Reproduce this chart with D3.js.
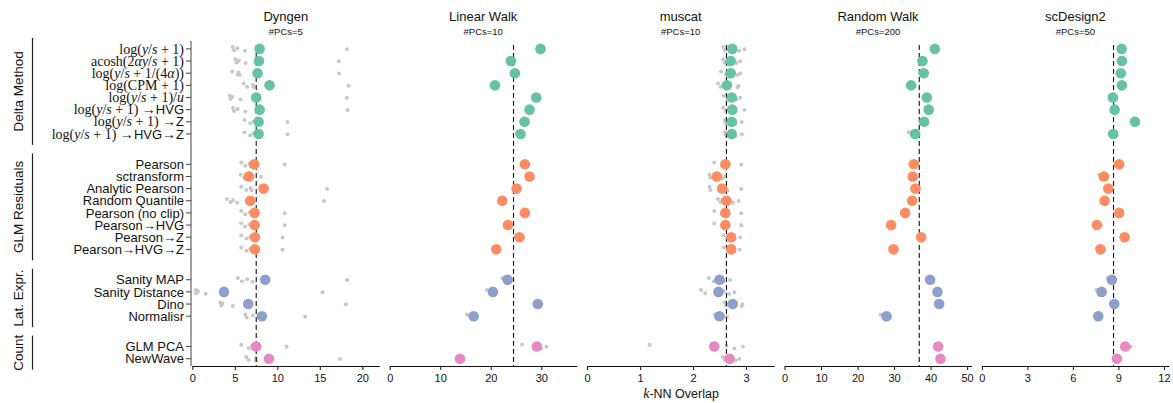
<!DOCTYPE html>
<html lang="en">
  <head>
    <meta charset="UTF-8" />
    <title>k-NN Overlap per transformation</title>
    <script src="https://cdn.jsdelivr.net/npm/d3@7"></script>
    <style>
      body {
        margin: 0;
        background: white;
      }
      svg {
        display: block;
        font-family: "Liberation Sans", Arial, sans-serif;
      }
    </style>
  </head>
  <body>
    <svg id="chart" width="1173" height="403"></svg>
    <script>
      // panels
      const datasets = ["Dyngen", "Linear Walk", "muscat", "Random Walk", "scDesign2"];
      const pcLabels = ["#PCs=5", "#PCs=10", "#PCs=10", "#PCs=200", "#PCs=50"];
      const xMax = [22, 37, 3.53, 51.2, 12.33];
      const xTicks = [
        [0, 5, 10, 15, 20],
        [0, 10, 20, 30],
        [0, 1, 2, 3],
        [0, 10, 20, 30, 40, 50],
        [0, 3, 6, 9, 12],
      ];
      const baselines = [7.52, 24.5, 2.63, 36.9, 8.68];

      // method groups
      const groupNames = ["Delta Method", "GLM Residuals", "Lat. Expr.", "Count"];
      const groupSizes = [8, 8, 4, 2];
      const groupColors = ["#66c2a5", "#fc8d62", "#8da0cb", "#e78ac3"];

      // row labels: [text, kind] where r = math roman, i = math italic, s = sans
      const methodLabels = [
        [["log(", "r"], ["y", "i"], ["/", "r"], ["s", "i"], [" + 1)", "r"]],
        [["acosh(2", "r"], ["αy", "i"], ["/", "r"], ["s", "i"], [" + 1)", "r"]],
        [["log(", "r"], ["y", "i"], ["/", "r"], ["s", "i"], [" + 1/(4", "r"], ["α", "i"], ["))", "r"]],
        [["log(CPM + 1)", "r"]],
        [["log(", "r"], ["y", "i"], ["/", "r"], ["s", "i"], [" + 1)/", "r"], ["u", "i"]],
        [["log(", "r"], ["y", "i"], ["/", "r"], ["s", "i"], [" + 1) →", "r"], ["HVG", "s"]],
        [["log(", "r"], ["y", "i"], ["/", "r"], ["s", "i"], [" + 1) →", "r"], ["Z", "s"]],
        [["log(", "r"], ["y", "i"], ["/", "r"], ["s", "i"], [" + 1) →", "r"], ["HVG", "s"], ["→", "r"], ["Z", "s"]],
        [["Pearson", "s"]],
        [["sctransform", "s"]],
        [["Analytic Pearson", "s"]],
        [["Random Quantile", "s"]],
        [["Pearson (no clip)", "s"]],
        [["Pearson→HVG", "s"]],
        [["Pearson→Z", "s"]],
        [["Pearson→HVG→Z", "s"]],
        [["Sanity MAP", "s"]],
        [["Sanity Distance", "s"]],
        [["Dino", "s"]],
        [["Normalisr", "s"]],
        [["GLM PCA", "s"]],
        [["NewWave", "s"]],
      ];

      // mean k-NN overlap (large dots)
      const dyngenMean = [7.92, 7.84, 7.68, 9.09, 7.52, 7.92, 7.8, 7.8, 7.29, 6.66, 8.39, 6.82, 7.33, 7.33, 7.37, 7.37, 8.58, 3.73, 6.58, 8.19, 7.52, 9.01];
      const linearMean = [29.84, 23.98, 24.77, 20.82, 28.99, 27.67, 26.68, 25.89, 26.75, 27.67, 25.1, 22.27, 26.75, 23.39, 25.69, 21.08, 23.32, 20.42, 29.3, 16.6, 29.1, 13.9];
      const muscatMean = [2.74, 2.71, 2.71, 2.64, 2.73, 2.74, 2.73, 2.73, 2.61, 2.45, 2.55, 2.63, 2.61, 2.61, 2.72, 2.72, 2.5, 2.48, 2.75, 2.5, 2.4, 2.69];
      const randomMean = [41.15, 37.77, 38.14, 34.67, 38.96, 39.5, 38.23, 35.77, 35.4, 35.13, 35.86, 34.95, 33.03, 29.2, 37.4, 29.84, 39.87, 41.88, 42.34, 27.92, 42.06, 42.7];
      const scdesignMean = [9.21, 9.23, 9.16, 9.23, 8.64, 8.75, 10.09, 8.66, 9.05, 8.04, 8.33, 8.09, 9.05, 7.58, 9.41, 7.82, 8.57, 7.89, 8.73, 7.67, 9.45, 8.9];

      // individual seeds (small grey dots)
      const dyngenReps = [
        [4.75, 4.9, 5.3, 6.2, 18.2], [5.06, 5.22, 5.49, 6.27, 17.24], [4.7, 5.35, 5.45, 5.6, 17.27],
        [6.04, 6.46, 7.13, 7.2, 18.38], [4.4, 4.47, 4.7, 5.69, 18.18], [4.78, 4.9, 5.33, 6.23, 18.26],
        [6.15, 6.82, 7.25, 7.58, 11.2], [6.15, 6.82, 7.25, 7.58, 11.2], [5.76, 6.23, 6.74, 6.86, 10.86],
        [5.69, 6.08, 6.6, 6.86, 8.07], [5.76, 6.35, 6.86, 6.98, 15.86], [4.08, 4.51, 4.78, 5.29, 15.51],
        [5.76, 6.23, 6.74, 7.06, 10.86], [5.76, 6.23, 6.74, 7.06, 10.86], [5.76, 6.39, 6.82, 7.25, 10.63],
        [5.76, 6.39, 6.82, 7.25, 10.63], [5.37, 5.84, 6.46, 7.1, 18.2], [0.43, 0.43, 0.67, 1.57, 15.32],
        [3.3, 3.41, 3.53, 4.78, 18.06], [6.23, 6.39, 7.13, 7.92, 13.28], [5.76, 6.63, 7.02, 7.09, 11.1],
        [6.35, 6.63, 7.49, 7.52, 17.36],
      ];
      const linearReps = [
        [29.5, 29.7, 29.9, 30.0, 30.1], [23.8, 23.9, 24.0, 24.1, 24.1], [24.6, 24.7, 24.8, 24.9, 24.9],
        [20.6, 20.7, 20.8, 21.0, 21.0], [28.8, 28.9, 29.0, 29.1, 29.2], [27.4, 27.6, 27.7, 27.8, 27.9],
        [26.5, 26.6, 26.7, 26.8, 26.8], [25.2, 25.8, 26.0, 26.2, 26.3], [26.6, 26.7, 26.7, 26.8, 26.9],
        [27.5, 27.6, 27.7, 27.8, 27.8], [24.9, 25.0, 25.1, 25.2, 25.3], [21.8, 22.1, 22.3, 22.5, 22.6],
        [26.6, 26.7, 26.8, 26.8, 26.9], [23.2, 23.3, 23.4, 23.5, 23.5], [24.9, 25.6, 25.9, 26.0, 26.1],
        [20.9, 21.0, 21.1, 21.2, 21.2], [22.3, 23.2, 23.5, 23.7, 23.9], [19.2, 20.2, 20.6, 21.0, 21.1],
        [29.1, 29.2, 29.3, 29.4, 29.5], [15.3, 16.4, 16.8, 17.2, 17.3], [26.2, 28.9, 29.4, 30.0, 31.0],
        [13.7, 13.8, 13.9, 14.0, 14.1],
      ];
      const muscatReps = [
        [2.57, 2.6, 2.7, 2.87, 2.97], [2.57, 2.6, 2.67, 2.82, 2.89], [2.53, 2.62, 2.67, 2.84, 2.89],
        [2.47, 2.52, 2.62, 2.84, 2.86], [2.58, 2.65, 2.72, 2.82, 2.89], [2.57, 2.62, 2.75, 2.8, 2.97],
        [2.6, 2.62, 2.72, 2.8, 2.92], [2.6, 2.62, 2.72, 2.8, 2.92], [2.4, 2.55, 2.6, 2.6, 2.91],
        [2.31, 2.33, 2.45, 2.55, 2.61], [2.31, 2.33, 2.55, 2.65, 2.91], [2.47, 2.52, 2.55, 2.75, 2.86],
        [2.4, 2.55, 2.6, 2.6, 2.91], [2.4, 2.55, 2.6, 2.6, 2.91], [2.58, 2.65, 2.7, 2.78, 2.89],
        [2.58, 2.66, 2.7, 2.78, 2.88], [2.3, 2.39, 2.45, 2.58, 2.7], [2.15, 2.23, 2.58, 2.68, 2.78],
        [2.6, 2.62, 2.68, 2.92, 2.93], [2.41, 2.44, 2.47, 2.52, 2.64], [1.18, 2.45, 2.63, 2.78, 2.94],
        [2.56, 2.6, 2.62, 2.8, 2.87],
      ];
      const randomReps = [
        [40.9, 41.0, 41.2, 41.3, 41.4], [37.5, 37.7, 37.8, 37.9, 38.0], [37.9, 38.0, 38.2, 38.3, 38.3],
        [34.4, 34.6, 34.7, 34.8, 34.9], [38.7, 38.9, 39.0, 39.1, 39.1], [38.6, 39.4, 39.7, 39.9, 39.9],
        [38.0, 38.1, 38.3, 38.4, 38.4], [34.0, 35.7, 36.2, 36.4, 36.5], [35.2, 35.3, 35.4, 35.5, 35.6],
        [34.9, 35.0, 35.1, 35.3, 35.35], [35.6, 35.8, 35.9, 36.0, 36.0], [34.7, 34.9, 35.0, 35.1, 35.05],
        [32.8, 32.9, 33.0, 33.2, 33.25], [29.0, 29.1, 29.2, 29.3, 29.4], [37.2, 37.3, 37.4, 37.5, 37.6],
        [29.6, 29.7, 29.9, 30.0, 30.0], [39.6, 39.8, 39.9, 40.0, 40.05], [41.6, 41.8, 41.9, 42.0, 42.1],
        [41.8, 42.2, 42.4, 42.6, 42.7], [26.3, 27.5, 28.2, 28.8, 28.8], [41.8, 42.0, 42.1, 42.2, 42.2],
        [42.5, 42.6, 42.7, 42.8, 42.9],
      ];
      const scdesignReps = [
        [9.1, 9.15, 9.2, 9.25, 9.35], [9.1, 9.2, 9.25, 9.3, 9.3], [9.05, 9.1, 9.15, 9.2, 9.3],
        [9.05, 9.15, 9.2, 9.3, 9.45], [8.4, 8.55, 8.65, 8.75, 8.85], [8.6, 8.7, 8.75, 8.8, 8.9],
        [9.95, 10.0, 10.1, 10.15, 10.25], [8.55, 8.6, 8.65, 8.7, 8.8], [8.9, 9.0, 9.05, 9.1, 9.2],
        [7.75, 8.0, 8.1, 8.15, 8.2], [8.2, 8.3, 8.35, 8.4, 8.4], [7.95, 8.05, 8.1, 8.15, 8.2],
        [8.9, 9.0, 9.05, 9.1, 9.2], [7.4, 7.5, 7.55, 7.6, 7.85], [9.3, 9.35, 9.4, 9.45, 9.55],
        [7.6, 7.75, 7.8, 7.9, 8.05], [8.3, 8.5, 8.6, 8.7, 8.75], [7.55, 7.85, 7.95, 8.0, 8.1],
        [8.55, 8.7, 8.75, 8.8, 8.85], [7.55, 7.6, 7.65, 7.75, 7.8], [9.3, 9.4, 9.45, 9.5, 9.8],
        [8.8, 8.85, 8.9, 8.95, 9.0],
      ];

      const means = [dyngenMean, linearMean, muscatMean, randomMean, scdesignMean];
      const reps = [dyngenReps, linearReps, muscatReps, randomReps, scdesignReps];

      // layout
      const serif = '"Liberation Serif", "Times New Roman", serif';
      const sans = '"Liberation Sans", Arial, sans-serif';
      const panelLeft = 192.3,
        panelStep = 197.4,
        panelWidth = 187;
      const jitter = [-1.8, 1.4, -0.6, 1.9, 0.3];

      // slot index of each row, with a gap of 2.5 slots between groups
      const slots = [];
      const rowGroup = [];
      let pos = 0;
      groupSizes.forEach((n, g) => {
        for (let k = 0; k < n; k++) {
          slots.push(pos + k);
          rowGroup.push(g);
        }
        pos += n - 1 + 2.5;
      });

      const svg = d3.select("#chart");
      const y = d3.scaleLinear().domain([-0.65, 26.1]).range([41, 366]);

      // group brackets + names
      let start = 0;
      groupSizes.forEach((n, g) => {
        const y0 = y(slots[start] - 0.9),
          y1 = y(slots[start + n - 1] + 0.9);
        svg
          .append("line")
          .attr("x1", 32.5)
          .attr("x2", 32.5)
          .attr("y1", y0)
          .attr("y2", y1)
          .attr("stroke", "#222")
          .attr("stroke-width", 1.2);
        svg
          .append("text")
          .attr("transform", `translate(23,${(y0 + y1) / 2}) rotate(-90)`)
          .attr("text-anchor", "middle")
          .attr("font-size", 13.5)
          .attr("fill", "#111")
          .text(groupNames[g]);
        start += n;
      });

      // row labels + y axis of first panel
      const yAxisG = svg.append("g");
      yAxisG
        .append("line")
        .attr("x1", 191)
        .attr("x2", 191)
        .attr("y1", 41)
        .attr("y2", 366)
        .attr("stroke", "#444")
        .attr("stroke-width", 1);
      methodLabels.forEach((parts, r) => {
        const yy = y(slots[r]);
        yAxisG
          .append("line")
          .attr("x1", 186)
          .attr("x2", 191)
          .attr("y1", yy)
          .attr("y2", yy)
          .attr("stroke", "#444");
        const t = yAxisG
          .append("text")
          .attr("x", 184)
          .attr("y", yy)
          .attr("dy", "0.36em")
          .attr("text-anchor", "end")
          .attr("font-family", sans)
          .attr("font-size", 13)
          .attr("fill", "#111");
        parts.forEach(([txt, kind]) => {
          const ts = t.append("tspan").text(txt);
          if (kind !== "s") {
            ts.attr("font-family", serif)
              .attr("font-style", kind === "i" ? "italic" : "normal")
              .attr("font-size", 14);
          }
        });
      });

      // panels
      datasets.forEach((name, i) => {
        const x0 = panelLeft + i * panelStep;
        const x = d3.scaleLinear().domain([0, xMax[i]]).range([x0, x0 + panelWidth]);
        const g = svg.append("g");

        g.append("text")
          .attr("x", x0 + panelWidth / 2)
          .attr("y", 21)
          .attr("text-anchor", "middle")
          .attr("font-size", 13)
          .attr("fill", "#111")
          .text(name);
        g.append("text")
          .attr("x", x0 + panelWidth / 2)
          .attr("y", 35)
          .attr("text-anchor", "middle")
          .attr("font-size", 9.5)
          .attr("fill", "#111")
          .text(pcLabels[i]);

        // x axis
        const axis = g
          .append("g")
          .attr("transform", "translate(0,366)")
          .call(
            d3
              .axisBottom(x)
              .tickValues(xTicks[i])
              .tickFormat(d3.format("d"))
              .tickSize(4)
              .tickSizeOuter(0)
          );
        axis.select(".domain").attr("stroke", "#111").attr("stroke-width", 1.2);
        axis.selectAll(".tick line").attr("stroke", "#111");
        axis
          .selectAll(".tick text")
          .attr("font-family", sans)
          .attr("font-size", 11)
          .attr("fill", "#111")
          .attr("y", 8);

        // grey seed dots
        const seedData = [];
        reps[i].forEach((vals, r) => vals.forEach((v, k) => seedData.push({ v, r, k })));
        g.append("g")
          .selectAll("circle")
          .data(seedData)
          .enter()
          .append("circle")
          .attr("cx", (d) => x(d.v))
          .attr("cy", (d) => y(slots[d.r]) + jitter[d.k])
          .attr("r", 2)
          .attr("fill", "#c8c8c8");

        // baseline
        g.append("line")
          .attr("x1", x(baselines[i]))
          .attr("x2", x(baselines[i]))
          .attr("y1", 45)
          .attr("y2", 366)
          .attr("stroke", "#111")
          .attr("stroke-width", 1.1)
          .attr("stroke-dasharray", "5,3");

        // mean dots
        g.append("g")
          .selectAll("circle")
          .data(means[i])
          .enter()
          .append("circle")
          .attr("cx", (d) => x(d))
          .attr("cy", (d, r) => y(slots[r]))
          .attr("r", 5.3)
          .attr("fill", (d, r) => groupColors[rowGroup[r]]);
      });

      // x label
      const xl = svg
        .append("text")
        .attr("x", 681)
        .attr("y", 398)
        .attr("text-anchor", "middle")
        .attr("font-size", 12.5)
        .attr("fill", "#111");
      xl.append("tspan").text("k").attr("font-family", serif).attr("font-style", "italic").attr("font-size", 14);
      xl.append("tspan").text("-NN Overlap").attr("font-family", sans);
    </script>
  </body>
</html>
